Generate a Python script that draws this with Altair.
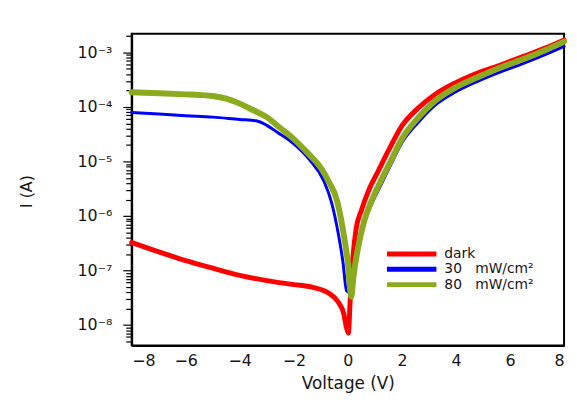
import altair as alt
import pandas as pd

# ---- data (voltage in V, current in A) ----
dark_v = [-8, -7, -6, -5, -4, -3, -2, -1.3, -0.7, -0.35, -0.15, -0.05, 0.02, 0.08, 0.15,
          0.3, 0.5, 0.8, 1.1, 1.5, 2.0, 2.6, 3.2, 4.0, 4.8, 5.7, 6.5, 7.3, 8.0]
dark_i = [3.24e-7, 2.19e-7, 1.51e-7, 1.10e-7, 8.1e-8, 6.5e-8, 5.5e-8, 4.9e-8, 3.8e-8, 2.6e-8,
          1.6e-8, 8.9e-9, 7.1e-9, 2.5e-8, 1.0e-7,
          5.6e-7, 1.26e-6, 3.2e-6, 6.3e-6, 1.58e-5, 4.5e-5, 9.5e-5, 1.66e-4, 2.8e-4, 4.2e-4,
          6.0e-4, 8.5e-4, 1.2e-3, 1.7e-3]

p30_v = [-8, -7, -6, -5, -4, -3.4, -3.0, -2.6, -2.0, -1.4, -0.9, -0.6, -0.36, -0.18, -0.05,
         0.05, 0.15, 0.2, 0.35, 0.6, 0.9, 1.2, 1.6, 2.0, 2.6, 3.2, 4.0, 4.8, 5.7, 6.5, 7.3, 8.0]
p30_i = [7.9e-5, 7.4e-5, 6.9e-5, 6.5e-5, 5.9e-5, 5.6e-5, 4.6e-5, 3.4e-5, 2.1e-5, 1.05e-5,
         4.5e-6, 1.74e-6, 4.9e-7, 1.4e-7, 4.2e-8,
         4.0e-8, 6.3e-8, 1.0e-7, 2.0e-7, 7.1e-7, 1.74e-6, 3.5e-6, 8.9e-6, 2.2e-5, 5.2e-5,
         1.05e-4, 1.9e-4, 2.95e-4, 4.5e-4, 6.3e-4, 9.1e-4, 1.29e-3]

p80_v = [-8, -7, -6, -5.5, -5, -4.5, -4, -3.5, -3, -2.5, -2, -1.5, -1, -0.7, -0.4, -0.2, 0, 0.13,
         0.2, 0.35, 0.6, 0.9, 1.2, 1.6, 2.0, 2.6, 3.2, 4.0, 4.8, 5.7, 6.5, 7.3, 8.0]
p80_i = [1.86e-4, 1.78e-4, 1.70e-4, 1.66e-4, 1.59e-4, 1.42e-4, 1.15e-4, 8.7e-5, 6.5e-5, 4.1e-5,
         2.57e-5, 1.45e-5, 7.6e-6, 4.2e-6, 1.9e-6, 6.3e-7, 1.4e-7, 3.3e-8,
         7.1e-8, 2.2e-7, 7.9e-7, 2.0e-6, 4.2e-6, 1.05e-5, 2.6e-5, 6.3e-5, 1.26e-4, 2.3e-4,
         3.5e-4, 5.4e-4, 7.6e-4, 1.1e-3, 1.58e-3]

series_names = ["dark", "30\u00a0\u00a0\u00a0mW/cm\u00b2", "80\u00a0\u00a0\u00a0mW/cm\u00b2"]
series_colors = ["#ff0000", "#0000ff", "#8aab1e"]
series_widths = [5, 3, 6]

x_ticks = [-8, -6, -4, -2, 0, 2, 4, 6, 8]
y_decades = [1e-8, 1e-7, 1e-6, 1e-5, 1e-4, 1e-3]
y_domain = [4.2e-9, 2.2e-3]

y_tick_values = []
for d in [1e-9] + y_decades:
    for m in range(1, 10):
        v = m * d
        if y_domain[0] <= v <= y_domain[1]:
            y_tick_values.append(v)

frames = []
for name, vs, cs in zip(series_names, [dark_v, p30_v, p80_v], [dark_i, p30_i, p80_i]):
    frames.append(pd.DataFrame({"V": vs, "I": cs, "series": name}))

FONT = "DejaVu Sans"
TXT = "#151515"
color_scale = alt.Scale(domain=series_names, range=series_colors)

is_decade = "abs(log(datum.value)/LN10 - round(log(datum.value)/LN10)) < 0.001"
label_expr = ("(" + is_decade + ") ? ('10\u207b' + ['\u2070','\u00b9','\u00b2','\u00b3','\u2074',"
              "'\u2075','\u2076','\u2077','\u2078','\u2079'][-round(log(datum.value)/LN10)]) : ''")

x_enc = alt.X("V:Q",
              scale=alt.Scale(domain=[-8, 8], nice=False, zero=False),
              axis=alt.Axis(values=x_ticks, title="Voltage (V)", ticks=False, grid=False,
                            labelPadding=7, labelFontSize=16, labelFont=FONT,
                            labelColor=TXT, titleFont=FONT, titleFontSize=17,
                            titleFontWeight="normal", titleColor=TXT,
                            titleY=43, titleBaseline="alphabetic",
                            domainColor="#000", domainWidth=2))
y_enc = alt.Y("I:Q",
              scale=alt.Scale(type="log", domain=y_domain, nice=False),
              axis=alt.Axis(values=y_tick_values, labelExpr=label_expr, title="I (A)",
                            grid=False, tickColor="#000", tickWidth=1.2,
                            tickSize={"condition": {"test": is_decade, "value": 9}, "value": 6},
                            labelPadding=11, labelFontSize=16, labelFont=FONT,
                            labelColor=TXT, titleFont=FONT, titleFontSize=16,
                            titleFontWeight="normal", titleColor=TXT,
                            titleX=-101, titleY=159, titleBaseline="alphabetic",
                            titleAlign="center",
                            domainColor="#000", domainWidth=2, labelOverlap=False))

layers = []
for i, df in enumerate(frames):
    enc = dict(x=x_enc, y=y_enc,
               color=alt.Color("series:N", scale=color_scale,
                               sort=series_names,
                               legend=alt.Legend(title=None, orient="none",
                                                 legendX=251, legendY=215,
                                                 symbolType="M0,0H20",
                                                 symbolSize=25,
                                                 symbolStrokeWidth=5,
                                                 clipHeight=15,
                                                 labelFont=FONT, labelFontSize=14,
                                                 labelColor=TXT, labelOffset=51,
                                                 rowPadding=0.5, padding=0)))
    layers.append(
        alt.Chart(df).mark_line(interpolate="monotone", strokeWidth=series_widths[i],
                                strokeCap="round", strokeJoin="round")
        .encode(**enc)
    )

chart = alt.layer(*layers).properties(
    width=437, height=315,
    autosize=alt.AutoSizeParams(type="none"),
    padding={"left": 125, "top": 24, "right": 5, "bottom": 48},
    background="white",
).configure_view(stroke="#000", strokeWidth=2)

chart.save("out.html", embed_options={"renderer": "svg", "actions": False})
